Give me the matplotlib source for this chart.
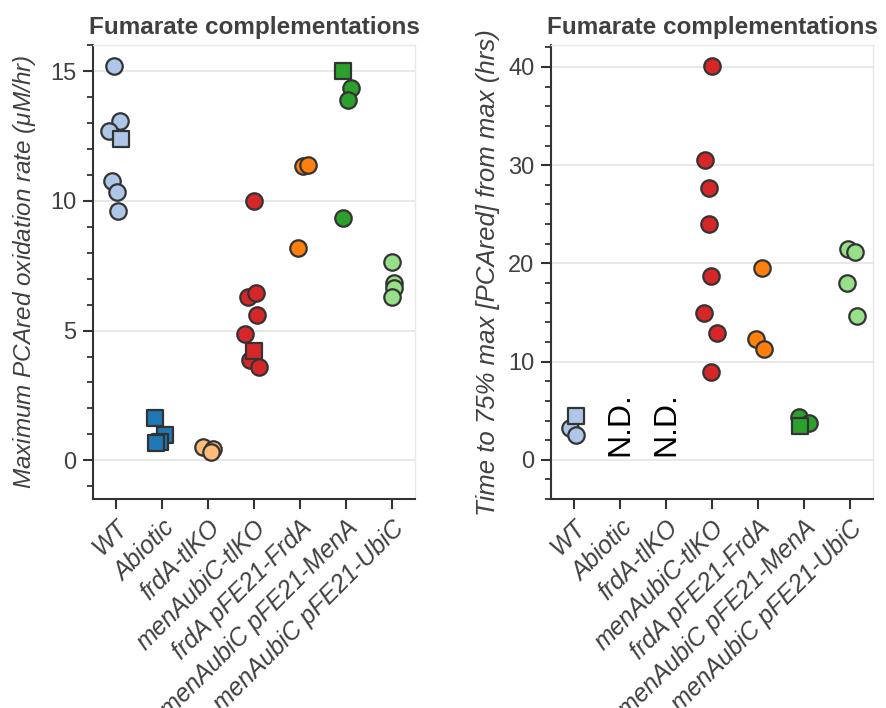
import matplotlib
matplotlib.use("Agg")
import matplotlib.pyplot as plt
from matplotlib.ticker import MultipleLocator

plt.rcParams['font.family'] = ['Liberation Sans', 'DejaVu Sans']
plt.rcParams['mathtext.fontset'] = 'custom'
plt.rcParams['mathtext.it'] = 'Liberation Sans:italic'

strains = ['WT', 'Abiotic', 'frdA-tlKO', 'menAubiC-tlKO', 'frdA pFE21-FrdA',
           'menAubiC pFE21-MenA', 'menAubiC pFE21-UbiC']
colors = ['#aec7e8', '#1f77b4', '#ffbb78', '#d62728', '#ff7f0e', '#2ca02c', '#98df8a']

# max PCAred oxidation rate (uM/hr), circles and squares are separate replicate sets
rate_circles = [[15.2, 13.1, 12.7, 10.75, 10.35, 9.6],
                [],
                [0.5, 0.42, 0.3],
                [10.0, 6.3, 6.45, 5.6, 4.85, 3.85, 3.6],
                [11.35, 11.4, 8.2],
                [14.35, 13.9, 9.35],
                [7.65, 6.85, 6.65, 6.3]]
rate_squares = [[12.4], [1.62, 0.97, 0.7, 0.68], [], [4.2], [], [15.0], []]

# time to 75% of max [PCAred] (hrs); Abiotic and frdA-tlKO not determined
time_circles = [[3.2, 2.5],
                [],
                [],
                [40.1, 30.5, 27.7, 24.05, 18.7, 15.0, 12.95, 8.95],
                [19.55, 12.3, 11.25],
                [4.4, 3.8],
                [21.5, 21.2, 18.0, 14.6]]
time_squares = [[4.5], [], [], [], [], [3.4], []]
not_determined = [1, 2]

# horizontal jitter of each point
rate_circle_dx = [[-0.05, 0.08, -0.15, -0.09, 0.03, 0.05], [], [-0.11, 0.11, 0.06],
                  [0.0, -0.12, 0.04, 0.07, -0.19, -0.08, 0.10], [0.06, 0.18, -0.05],
                  [0.11, 0.04, -0.07], [0.0, 0.05, 0.05, 0.0]]
rate_square_dx = [[0.11], [-0.16, 0.07, -0.04, -0.13], [], [-0.01], [], [-0.06], []]
time_circle_dx = [[-0.09, 0.04], [], [], [0.0, -0.15, -0.06, -0.07, -0.02, -0.17, 0.11, -0.02],
                  [0.09, -0.05, 0.12], [-0.11, 0.11], [-0.04, 0.11, -0.07, 0.16]]
time_square_dx = [[0.04], [], [], [], [], [-0.09], []]

edge = '#333333'
text_col = '#404040'


def strip(ax, circles, cdx, squares, sdx):
    for i, c in enumerate(colors):
        if circles[i]:
            ax.scatter([i + d for d in cdx[i]], circles[i], s=140, marker='o',
                       facecolor=c, edgecolor=edge, linewidth=1.6, zorder=3)
    for i, c in enumerate(colors):
        if squares[i]:
            ax.scatter([i + d for d in sdx[i]], squares[i], s=135, marker='s',
                       facecolor=c, edgecolor=edge, linewidth=1.6, zorder=4)


def style(ax, major, minor):
    ax.set_xlim(-0.5, 6.5)
    ax.set_xticks(range(len(strains)))
    ax.set_xticklabels(strains, rotation=45, ha='right', rotation_mode='anchor',
                       style='italic', fontsize=17.8, color=text_col)
    ax.yaxis.set_major_locator(MultipleLocator(major))
    ax.yaxis.set_minor_locator(MultipleLocator(minor))
    ax.tick_params(axis='both', which='major', direction='out', length=7, width=1.5,
                   color=edge, labelcolor=text_col, pad=5)
    ax.tick_params(axis='y', which='major', labelsize=17)
    ax.tick_params(axis='y', which='minor', direction='out', length=4.2, width=1.3, color=edge)
    ax.grid(axis='y', which='major', color='#e6e6e6', linewidth=1.3, zorder=0)
    ax.set_axisbelow(True)
    for s in ['left', 'bottom']:
        ax.spines[s].set_color(edge)
        ax.spines[s].set_linewidth(1.5)
    for s in ['top', 'right']:
        ax.spines[s].set_color('#e8e8e8')
        ax.spines[s].set_linewidth(1.0)
    ax.set_title('Fumarate complementations', fontsize=17.5, fontweight='bold',
                 color=text_col, pad=8)


fig = plt.figure(figsize=(8.86, 7.08), dpi=100)
ax1 = fig.add_axes([0.105, 0.295, 0.3634, 0.641])
ax2 = fig.add_axes([0.622, 0.295, 0.3634, 0.641])

strip(ax1, rate_circles, rate_circle_dx, rate_squares, rate_square_dx)
style(ax1, 5, 1)
ax1.set_ylim(-1.5, 16)
ax1.set_ylabel(r'Maximum PCAred oxidation rate ($\mu$M/hr)', style='italic',
               fontsize=17.5, color=text_col, labelpad=9)

strip(ax2, time_circles, time_circle_dx, time_squares, time_square_dx)
style(ax2, 10, 2)
ax2.set_ylim(-4, 42.2)
ax2.set_ylabel('Time to 75% max [PCAred] from max (hrs)', style='italic',
               fontsize=18.5, color=text_col, labelpad=6)
for i in not_determined:
    ax2.text(i, 0.4, 'N.D.', rotation=90, ha='center', va='bottom', fontsize=23,
             color='black')

fig.savefig('out.png', dpi=100)
